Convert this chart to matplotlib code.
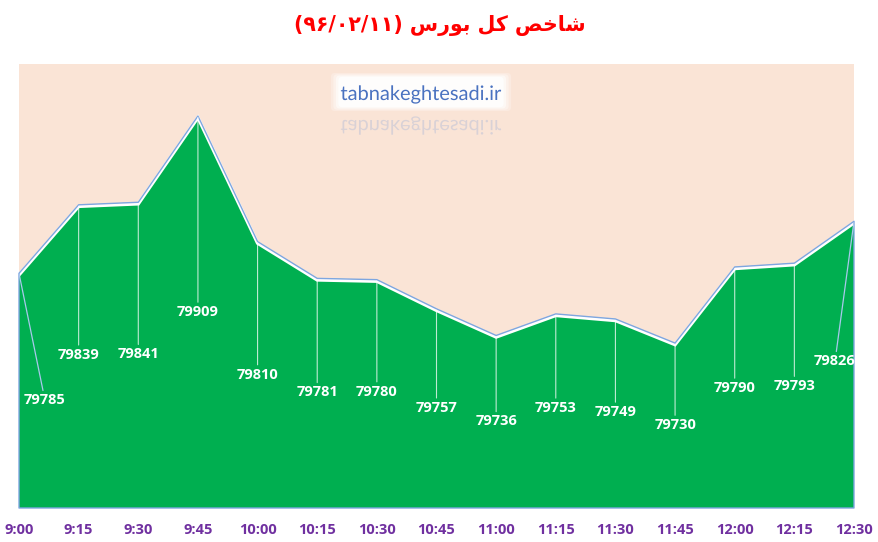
import numpy as np
import matplotlib
matplotlib.use("Agg")
import matplotlib.pyplot as plt
from matplotlib import transforms
from matplotlib.textpath import TextPath
from matplotlib.patches import PathPatch, FancyBboxPatch
from matplotlib.font_manager import FontProperties

times = ["9:00", "9:15", "9:30", "9:45", "10:00", "10:15", "10:30", "10:45",
         "11:00", "11:15", "11:30", "11:45", "12:00", "12:15", "12:30"]
index_vals = [79785, 79839, 79841, 79909, 79810, 79781, 79780, 79757,
              79736, 79753, 79749, 79730, 79790, 79793, 79826]

# where excel dropped each data label (pixels below / beside the point)
label_drop = [127, 150, 152, 196, 133, 114, 112, 99, 86, 94, 93, 82, 121, 123, 140]
label_shift = [26, 0, 0, 0, 0, 0, 0, 0, 0, 0, 0, 0, 0, 0, -19]

# title already in visual order, presentation forms (matplotlib has no bidi/shaping)
title = "(\u06f9\u06f6/\u06f0\u06f2/\u06f1\u06f1) " \
        "\ufeb1\ufead\ufeee\ufe91 " \
        "\ufede\ufedb " \
        "\ufeba\ufea7\ufe8e\ufeb7"
watermark = "tabnakeghtesadi.ir"

GREEN = "#00AF50"
PEACH = "#FAE4D6"
BLUE = "#7EA6E0"
PURPLE = "#7030A0"

W, H = 879, 542
fig = plt.figure(figsize=(W / 100, H / 100), dpi=100)
ax = fig.add_axes([19 / W, 1 - 508 / H, 835 / W, 444 / H])
ax.set_facecolor(PEACH)

x = np.arange(len(index_vals))
ymin, ymax = 79600, 79950
ax.fill_between(x, index_vals, ymin, facecolor=GREEN, edgecolor="none", zorder=1)

# white rim just under the top edge, then the thin blue border
rim = transforms.offset_copy(ax.transData, fig=fig, x=0, y=-1.6, units="dots")
ax.plot(x, index_vals, color="white", lw=2.4, transform=rim, zorder=2,
        solid_joinstyle="miter")
ax.fill_between(x, index_vals, ymin, facecolor="none", edgecolor=BLUE, lw=1.0,
                zorder=3, clip_on=False)

for i, v in enumerate(index_vals):
    slanted = label_shift[i] != 0
    ax.annotate(str(v), xy=(i, v), xytext=(label_shift[i], -label_drop[i]),
                textcoords="offset pixels", ha="center", va="center",
                color="white", fontsize=10.5, fontweight="bold", family="Open Sans",
                annotation_clip=False, zorder=5,
                arrowprops=dict(arrowstyle="-", lw=0.9 if slanted else 0.8,
                                color="#A9C8EC" if slanted else (1, 1, 1, 0.75),
                                shrinkA=0, shrinkB=1))

ax.set_xlim(0, len(index_vals) - 1)
ax.set_ylim(ymin, ymax)
ax.set_xticks(x)
ax.set_xticklabels(times, color=PURPLE, fontsize=10.5, fontweight="bold",
                   family="Open Sans")
ax.tick_params(axis="x", length=0, pad=11)
ax.set_yticks([])
for s in ax.spines.values():
    s.set_visible(False)

fig.text(0.5, 1 - 26 / H, title, ha="center", va="center", color="#FF0000",
         fontsize=14.8, fontweight="bold", family=["DejaVu Sans"])

# watermark with a soft white glow and a faded mirror image
fp = FontProperties(family="Lato", size=20)
tp = TextPath((0, 0), watermark, prop=fp)
ext = tp.get_extents()
cx, base = 421, H - 100
x0 = cx - ext.width / 2 - ext.x0
for k, a in enumerate([0.25, 0.35, 0.5, 0.8]):
    pad = 10 - 2.5 * k
    glow = FancyBboxPatch((x0 + ext.x0 - pad, base - 6 - pad / 2),
                          ext.width + 2 * pad, 28 + pad,
                          boxstyle="round,pad=0,rounding_size=4",
                          transform=None, facecolor="white", edgecolor="none",
                          alpha=a, zorder=10)
    fig.patches.append(glow)
fig.patches.append(PathPatch(tp, transform=transforms.Affine2D().translate(x0, base),
                             facecolor="#4A72C0", edgecolor="none", zorder=11))
fig.patches.append(PathPatch(tp, transform=transforms.Affine2D().scale(1, -1).translate(x0, base - 20),
                             facecolor="#8FA8D8", edgecolor="none", alpha=0.3, zorder=11))

fig.savefig("out.png", dpi=100)
